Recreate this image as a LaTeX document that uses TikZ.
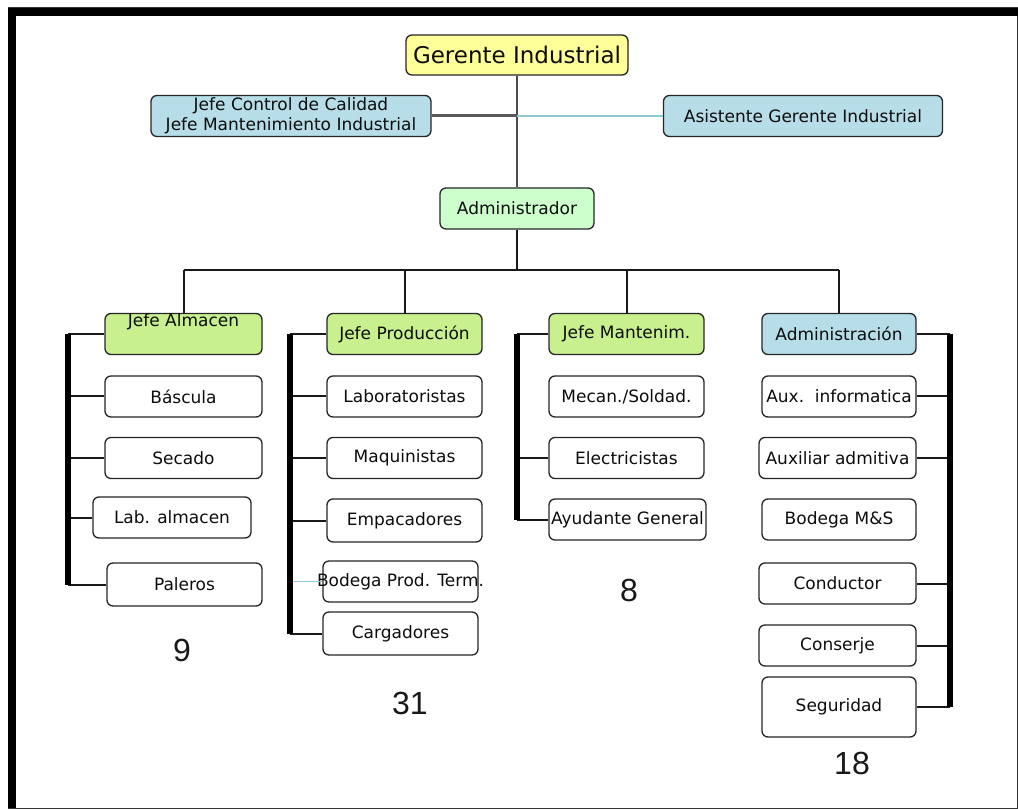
\documentclass[tikz,border=0pt]{standalone}
\usepackage{fontspec}
\setmainfont{DejaVu Sans}
\newfontfamily\numfont{Liberation Sans}
\usetikzlibrary{calc}
\definecolor{amarillo}{HTML}{FFFF99}
\definecolor{celeste}{HTML}{B7DEE8}
\definecolor{menta}{HTML}{CCFFCC}
\definecolor{lima}{HTML}{C8F08F}
\definecolor{enlace}{HTML}{8CCAD6}
\tikzset{
    caja/.style={draw=black!85, line width=1.3pt, rounded corners=6pt,
        minimum height=41pt, inner sep=1pt, text=black!95,
        font=\fontsize{17}{20}\selectfont},
    linea/.style={draw=black!90, line width=2pt},
    bus/.style={draw=black, line width=5.5pt},
    cifra/.style={font=\numfont\fontsize{32}{36}\selectfont, text=black!90}
}

\begin{document}
\begin{tikzpicture}[x=1pt, y=-1pt]
        \useasboundingbox (0,0) rectangle (1018,810);
        % marco
        \fill[white] (8,8) rectangle (1017,808);
        \draw[line width=1pt, black!80] (8,8) rectangle (1017,808);
        \fill[black] (8,8) rectangle (1018,16);
        \fill[black] (8,8) rectangle (16,808);

        % direccion
        \node[caja, fill=amarillo, minimum width=222pt, minimum height=40pt,
            font=\fontsize{23}{26}\selectfont] (gerente) at (517,55) {Gerente Industrial};
        \node[caja, fill=celeste, minimum width=280pt, align=center,
            font=\fontsize{17}{20}\selectfont] (control) at (291,116)
            {Jefe Control de Calidad\\Jefe Mantenimiento Industrial};
        \node[caja, fill=celeste, minimum width=279pt] (asistente) at (803,116) {Asistente Gerente Industrial};
        \node[caja, fill=menta, minimum width=154pt] (administrador) at (517,208.5) {Administrador};

        \coordinate (J) at (gerente.south |- control.east);
        \coordinate (barra) at (517,270);
        \draw[draw=black!70, line width=2pt] (gerente.south) -- (gerente.south |- administrador.north);
        \draw[draw=black!65, line width=3pt] (control.east) -- (J);
        \draw[draw=enlace, line width=1.2pt] (J) -- (asistente.west);

        % jefaturas
        \node[caja, fill=lima, minimum width=157pt] (almacen) at (183.5,334)
            {\raisebox{7pt}[0pt][0pt]{Jefe Almacen}};
        \node[caja, fill=lima, minimum width=155pt] (produccion) at (404.5,334) {Jefe Producción};
        \node[caja, fill=lima, minimum width=155pt] (mantenim) at (626.5,334) {Jefe Mantenim.};
        \node[caja, fill=celeste, minimum width=154pt] (admon) at (839,334) {Administración};

        \draw[linea] (administrador.south) -- (barra);
        \draw[linea] (almacen.north |- barra) -- (admon.north |- barra);
        \draw[linea] (almacen.north |- barra) -- (almacen.north);
        \draw[linea] (produccion.north |- barra) -- (produccion.north);
        \draw[linea] (mantenim.north |- barra) -- (mantenim.north);
        \draw[linea] (admon.north |- barra) -- (admon.north);

        % almacen
        \node[caja, minimum width=157pt] (bascula) at (183.5,396.5) {Báscula};
        \node[caja, minimum width=157pt] (secado) at (183.5,458) {Secado};
        \node[caja, minimum width=158pt] (labalmacen) at (172,517.5) {Lab. almacen};
        \node[caja, minimum width=155pt, minimum height=43pt] (paleros) at (184.5,584.5) {Paleros};
        \coordinate (busA) at (68,334);
        \draw[linea] (busA) -- (almacen.west);
        \draw[linea] (busA |- bascula.west) -- (bascula.west);
        \draw[linea] (busA |- secado.west) -- (secado.west);
        \draw[linea] (busA |- labalmacen.west) -- (labalmacen.west);
        \draw[linea] (busA |- paleros.west) -- (paleros.west);
        \draw[bus] (busA) -- (busA |- paleros.west);
        \node[cifra] (n9) at (182,650) {9};

        % produccion
        \node[caja, minimum width=155pt] (laboratoristas) at (404.5,396.5) {Laboratoristas};
        \node[caja, minimum width=155pt] (maquinistas) at (404.5,458) {Maquinistas};
        \node[caja, minimum width=155pt, minimum height=43pt] (empacadores) at (404.5,520.5) {Empacadores};
        \node[caja, minimum width=155pt] (bodegapt) at (400.5,581.5) {\makebox[0pt]{Bodega Prod. Term.}};
        \node[caja, minimum width=155pt, minimum height=43pt] (cargadores) at (400.5,633.5) {Cargadores};
        \coordinate (busP) at (290,334);
        \draw[linea] (busP) -- (produccion.west);
        \draw[linea] (busP |- laboratoristas.west) -- (laboratoristas.west);
        \draw[linea] (busP |- maquinistas.west) -- (maquinistas.west);
        \draw[linea] (busP |- empacadores.west) -- (empacadores.west);
        \draw[draw=enlace, line width=1.2pt] (busP |- bodegapt.west) -- (bodegapt.west);
        \draw[linea] (busP |- cargadores.west) -- (cargadores.west);
        \draw[bus] (busP) -- (busP |- cargadores.west);
        \node[cifra] (n31) at (410,703) {31};

        % mantenimiento
        \node[caja, minimum width=155pt] (mecanicos) at (626.5,396.5) {Mecan./Soldad.};
        \node[caja, minimum width=155pt] (electricistas) at (626.5,458) {Electricistas};
        \node[caja, minimum width=157pt] (ayudante) at (627.5,519.5) {\makebox[0pt]{Ayudante General}};
        \coordinate (busM) at (517,334);
        \draw[linea] (busM) -- (mantenim.west);
        \draw[linea] (busM |- electricistas.west) -- (electricistas.west);
        \draw[linea] (busM |- ayudante.west) -- (ayudante.west);
        \draw[bus] (busM) -- (busM |- ayudante.west);
        \node[cifra] (n8) at (629,590) {8};

        % administracion
        \node[caja, minimum width=154pt] (auxinfo) at (839,396.5) {\makebox[0pt]{Aux.\ \ informatica}};
        \node[caja, minimum width=157pt] (auxadm) at (837.5,458) {\makebox[0pt]{Auxiliar admitiva}};
        \node[caja, minimum width=154pt] (bodegams) at (839,519.5) {Bodega M\&S};
        \node[caja, minimum width=157pt] (conductor) at (837.5,583.5) {Conductor};
        \node[caja, minimum width=157pt] (conserje) at (837.5,645.5) {Conserje};
        \node[caja, minimum width=154pt, minimum height=60pt] (seguridad) at (839,707) {Seguridad};
        \coordinate (busD) at (950,334);
        \draw[linea] (admon.east) -- (busD);
        \draw[linea] (auxinfo.east) -- (busD |- auxinfo.east);
        \draw[linea] (auxadm.east) -- (busD |- auxadm.east);
        \draw[linea] (conductor.east) -- (busD |- conductor.east);
        \draw[linea] (conserje.east) -- (busD |- conserje.east);
        \draw[linea] (seguridad.east) -- (busD |- seguridad.east);
        \draw[bus] (busD) -- (busD |- seguridad.east);
        \node[cifra] (n18) at (852,763) {18};
    \end{tikzpicture}
\end{document}
